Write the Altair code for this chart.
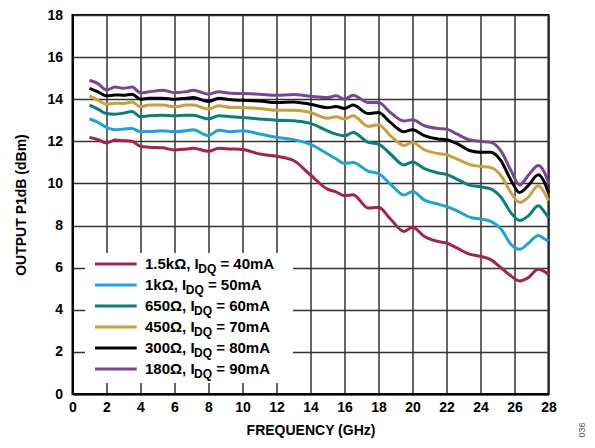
import altair as alt
import pandas as pd

freq = [1, 1.5, 2, 2.5, 3, 3.5, 4, 4.5, 5.3, 6, 6.7, 7.1, 8, 8.6, 9.3, 10,
        11, 12, 13, 14, 15, 15.5, 16, 16.5, 17.4, 18, 18.7, 19.5, 20, 20.7, 21.5, 22,
        22.6, 23.4, 24, 24.6, 25.2, 25.8, 26.3, 26.8, 27.4, 27.8, 28]

red = [12.19, 12.08, 11.92, 12.06, 12.03, 12.0, 11.76, 11.72,
       11.69, 11.59, 11.64, 11.67, 11.53, 11.67, 11.64, 11.61,
       11.4, 11.29, 11.09, 10.4, 9.73, 9.6, 9.42, 9.46,
       8.83, 8.87, 8.31, 7.72, 7.92, 7.48, 7.24, 7.17,
       6.94, 6.63, 6.54, 6.38, 6.0, 5.6, 5.37, 5.52,
       5.93, 5.8, 5.69]
blue = [13.06, 12.9, 12.66, 12.55, 12.58, 12.61, 12.46, 12.47,
        12.5, 12.46, 12.5, 12.55, 12.27, 12.53, 12.46, 12.5,
        12.35, 12.19, 12.08, 11.85, 11.4, 11.17, 10.95, 10.99,
        10.58, 10.47, 9.97, 9.45, 9.62, 9.21, 9.02, 8.9,
        8.71, 8.39, 8.31, 8.2, 7.85, 7.1, 6.87, 7.15,
        7.53, 7.35, 7.26]
teal = [13.72, 13.53, 13.32, 13.29, 13.34, 13.42, 13.17, 13.21,
        13.24, 13.21, 13.24, 13.24, 13.06, 13.21, 13.17, 13.13,
        13.06, 13.0, 12.98, 12.85, 12.5, 12.34, 12.26, 12.42,
        11.95, 11.87, 11.4, 10.88, 11.02, 10.7, 10.5, 10.43,
        10.21, 9.91, 9.84, 9.74, 9.35, 8.6, 8.24, 8.45,
        8.94, 8.6, 8.39]
gold = [14.16, 13.95, 13.76, 13.81, 13.8, 13.87, 13.64, 13.72,
        13.72, 13.64, 13.72, 13.73, 13.53, 13.69, 13.61, 13.61,
        13.56, 13.48, 13.48, 13.37, 13.1, 13.17, 13.06, 13.21,
        12.71, 12.79, 12.27, 11.8, 11.95, 11.6, 11.42, 11.36,
        11.17, 10.89, 10.81, 10.76, 10.38, 9.55, 9.1, 9.34,
        9.89, 9.5, 9.18]
black = [14.52, 14.35, 14.16, 14.2, 14.19, 14.24, 14.0, 14.05,
         14.05, 14.0, 14.05, 14.08, 13.89, 14.05, 13.97, 13.95,
         13.92, 13.84, 13.87, 13.76, 13.6, 13.65, 13.56, 13.72,
         13.32, 13.37, 12.9, 12.46, 12.55, 12.27, 12.11, 12.08,
         11.9, 11.55, 11.48, 11.48, 11.08, 10.14, 9.57, 9.89,
         10.41, 9.98, 9.55]
purple = [14.9, 14.74, 14.44, 14.58, 14.52, 14.58, 14.31, 14.35,
          14.43, 14.31, 14.36, 14.43, 14.24, 14.36, 14.28, 14.27,
          14.24, 14.19, 14.22, 14.14, 14.08, 14.16, 14.0, 14.19,
          13.84, 13.84, 13.37, 12.97, 13.02, 12.74, 12.61, 12.58,
          12.35, 12.06, 12.0, 11.95, 11.55, 10.6, 9.93, 10.37,
          10.85, 10.45, 10.0]

resistances = ["1.5kΩ", "1kΩ", "650Ω", "450Ω", "300Ω", "180Ω"]
currents = ["40mA", "50mA", "60mA", "70mA", "80mA", "90mA"]
colors = ["#A5224A", "#1AA3DC", "#087F78", "#C9A03A", "#000000", "#7A4593"]
series_values = [red, blue, teal, gold, black, purple]
labels = [f"{r}, IDQ = {c}" for r, c in zip(resistances, currents)]

x_ticks = list(range(0, 29, 2))
y_ticks = list(range(0, 19, 2))

FONT = "Liberation Sans"

rows = []
for lab, vals in zip(labels, series_values):
    for f, v in zip(freq, vals):
        rows.append({"series": lab, "freq": f, "p1db": v})
df = pd.DataFrame(rows)

W, H = 476, 379

lines = alt.Chart(df).mark_line(interpolate="monotone", strokeWidth=3).encode(
    x=alt.X("freq:Q", scale=alt.Scale(domain=[0, 28], nice=False),
            axis=alt.Axis(values=x_ticks, title="FREQUENCY (GHz)", format="d")),
    y=alt.Y("p1db:Q", scale=alt.Scale(domain=[0, 18], nice=False),
            axis=alt.Axis(values=y_ticks, title="OUTPUT P1dB (dBm)", format="d")),
    color=alt.Color("series:N", scale=alt.Scale(domain=labels, range=colors), legend=None),
)

# ---- hand-built legend (layout only) ----
dummy = pd.DataFrame({"a": [0]})
layers = [lines]
layers.append(alt.Chart(dummy).mark_rect(fill="white", stroke=None).encode(
    x=alt.value(12.5), x2=alt.value(220.5), y=alt.value(238), y2=alt.value(368)))

CW = {"0": .556, "1": .556, "2": .556, "3": .556, "4": .556, "5": .556, "6": .556,
      "7": .556, "8": .556, "9": .556, ".": .278, ",": .278, " ": .278, "k": .556,
      "Ω": .77, "I": .278, "D": .722, "Q": .778}


def tw(s, fs):
    return sum(CW.get(ch, .6) for ch in s) * fs


FS, SFS = 15, 12
x_text = 72.5
for i, (r, c, col) in enumerate(zip(resistances, currents, colors)):
    yy = 249 + 21 * i
    layers.append(alt.Chart(dummy).mark_rule(stroke=col, strokeWidth=3).encode(
        x=alt.value(22.5), x2=alt.value(64.2), y=alt.value(yy)))
    prefix = f"{r}, I"
    layers.append(alt.Chart(dummy).mark_text(
        text=prefix, align="left", baseline="middle", font=FONT, fontSize=FS,
        fontWeight="bold", color="black").encode(x=alt.value(x_text), y=alt.value(yy)))
    xs = x_text + tw(prefix, FS)
    layers.append(alt.Chart(dummy).mark_text(
        text="DQ", align="left", baseline="middle", font=FONT, fontSize=SFS,
        fontWeight="bold", color="black").encode(x=alt.value(xs), y=alt.value(yy + 4.5)))
    xf = xs + tw("DQ", SFS) + tw(" ", FS)
    layers.append(alt.Chart(dummy).mark_text(
        text=f"= {c}", align="left", baseline="middle", font=FONT, fontSize=FS,
        fontWeight="bold", color="black").encode(x=alt.value(xf), y=alt.value(yy)))

layers.append(alt.Chart(dummy).mark_text(
    text="036", angle=270, align="center", baseline="middle", font=FONT, fontSize=9,
    color="#555555").encode(x=alt.value(509.5), y=alt.value(415)))

chart = alt.layer(*layers).properties(
    width=W, height=H,
    autosize=alt.AutoSizeParams(type="none"),
    padding={"left": 64.5, "top": 7, "right": 38.5, "bottom": 46},
).configure_view(
    stroke="black", strokeWidth=2
).configure_axis(
    labelFont=FONT, labelFontSize=14, labelFontWeight="bold", labelColor="black",
    titleFont=FONT, titleFontSize=14, titleFontWeight="bold", titleColor="black",
    grid=True, gridColor="#333333", gridWidth=1.5, gridOpacity=1,
    domainColor="black", domainWidth=2, ticks=False,
).configure_axisX(
    labelPadding=6, titlePadding=9, labelFlush=False
).configure_axisY(
    labelPadding=10, titlePadding=18
)

chart.save("out.html", embed_options={"renderer": "svg", "actions": False})
